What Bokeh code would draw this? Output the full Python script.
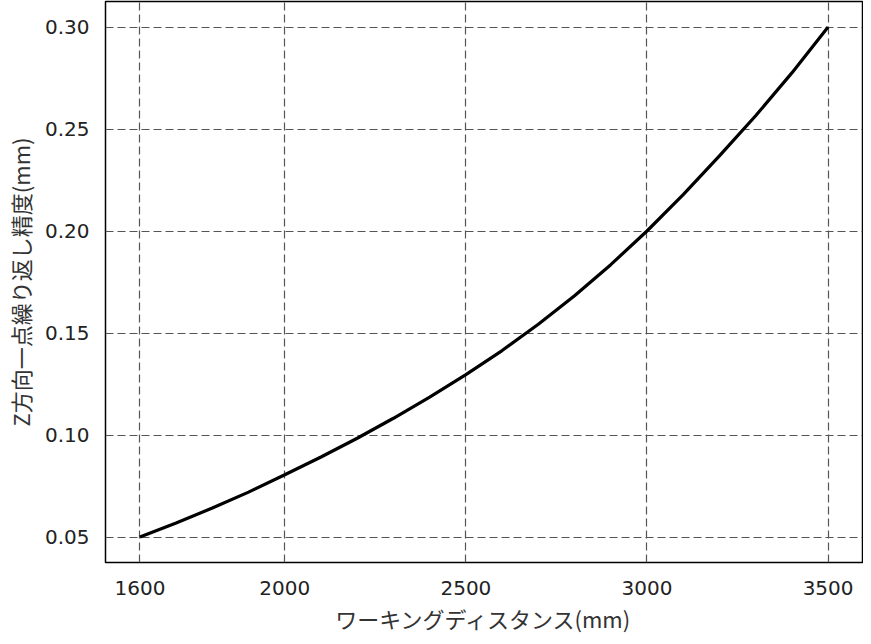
from bokeh.plotting import figure
from bokeh.embed import file_html
from bokeh.resources import INLINE
from bokeh.models import FixedTicker, Range1d, PrintfTickFormatter

# Data
working_distance = [1600, 1700, 1800, 1900, 2000, 2100, 2200, 2300, 2400, 2500,
                    2600, 2700, 2800, 2900, 3000, 3100, 3200, 3300, 3400, 3500]
z_repeatability = [0.0500, 0.0569, 0.0642, 0.0720, 0.0805, 0.0892, 0.0984, 0.1082, 0.1186, 0.1296,
                   0.1414, 0.1543, 0.1683, 0.1835, 0.2000, 0.2178, 0.2368, 0.2565, 0.2775, 0.3000]

x_ticks = [1600, 2000, 2500, 3000, 3500]
y_ticks = [0.05, 0.10, 0.15, 0.20, 0.25, 0.30]

x_label = "ワーキングディスタンス(mm)"
y_label = "Z方向一点繰り返し精度(mm)"

p = figure(width=863, height=636, output_backend="svg", toolbar_location=None,
           x_range=Range1d(1505, 3595), y_range=Range1d(0.0375, 0.3125))
p.min_border_left = 101
p.min_border_right = 1
p.min_border_top = 1
p.min_border_bottom = 67

p.line(working_distance, z_repeatability, line_color="black", line_width=3.2)

p.outline_line_color = "black"
p.outline_line_width = 1.5
p.outline_line_alpha = 1.0

for ax in (p.xaxis[0], p.yaxis[0]):
    ax.axis_line_color = None
    ax.major_tick_line_color = None
    ax.minor_tick_line_color = None
    ax.major_label_text_font = "DejaVu Sans"
    ax.major_label_text_font_size = "20px"
    ax.major_label_text_color = "#222222"
    ax.axis_label_text_font = "Noto Sans CJK JP"
    ax.axis_label_text_font_size = "22px"
    ax.axis_label_text_font_style = "normal"
    ax.axis_label_text_color = "#333333"
    ax.major_label_standoff = 12

p.xaxis[0].ticker = FixedTicker(ticks=x_ticks)
p.yaxis[0].ticker = FixedTicker(ticks=y_ticks)
p.yaxis[0].formatter = PrintfTickFormatter(format="%.2f")
p.yaxis[0].major_label_standoff = 10
p.xaxis[0].axis_label = x_label
p.yaxis[0].axis_label = y_label
p.xaxis[0].axis_label_standoff = 4
p.yaxis[0].axis_label_standoff = 6

p.grid.grid_line_color = "#555555"
p.grid.grid_line_width = 1.2
p.grid.grid_line_dash = "8 4"
p.background_fill_color = "white"
p.border_fill_color = "white"

open("out.html", "w").write(file_html(p, INLINE))
